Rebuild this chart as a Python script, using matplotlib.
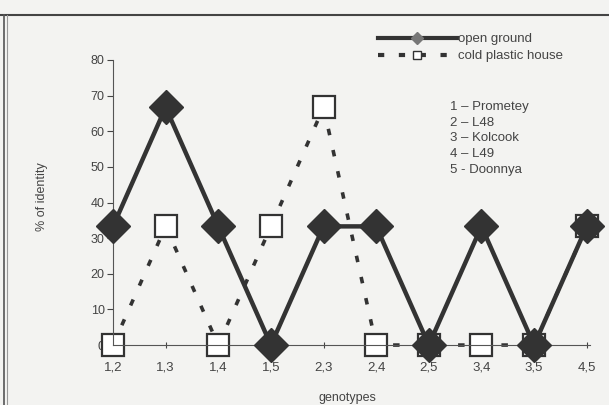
import matplotlib.pyplot as plt
import matplotlib.lines as mlines

plt.rcParams['font.family'] = ['Liberation Sans', 'DejaVu Sans']

# data
genotypes = ['1,2', '1,3', '1,4', '1,5', '2,3', '2,4', '2,5', '3,4', '3,5', '4,5']
open_ground = [33.3, 66.7, 33.3, 0, 33.3, 33.3, 0, 33.3, 0, 33.3]
cold_house = [0, 33.3, 0, 33.3, 66.7, 0, 0, 0, 0, 33.3]
variety_names = ['1 \u2013 Prometey', '2 \u2013 L48', '3 \u2013 Kolcook', '4 \u2013 L49', '5 - Doonnya']
y_ticks = [0, 10, 20, 30, 40, 50, 60, 70, 80]

bg = '#f3f3f1'
ink = '#333333'
txt = '#444444'

fig = plt.figure(figsize=(6.09, 4.05), dpi=100, facecolor=bg)
ax = fig.add_axes([0.1856, 0.148, 0.783, 0.704])
ax.set_facecolor('none')

x = list(range(len(genotypes)))
ax.plot(x, cold_house, color=ink, lw=2.6, ls=(0, (1.8, 4.2)), marker='s', ms=16,
        mfc='white', mec=ink, mew=1.6, zorder=2)
ax.plot(x, open_ground, color=ink, lw=3.2, ls='-', marker='D', ms=17,
        mfc=ink, mec=ink, zorder=3)

ax.set_xlim(0, 9.06)
ax.set_ylim(0, 80)
ax.set_yticks(y_ticks)
ax.set_xticks(x)
ax.set_xticklabels(genotypes)
for s in ['top', 'right']:
    ax.spines[s].set_visible(False)
for s in ['left', 'bottom']:
    ax.spines[s].set_color('#555555')
    ax.spines[s].set_linewidth(0.8)
ax.tick_params(axis='y', direction='out', length=4, labelsize=9, colors=txt, width=0.8, pad=2)
ax.tick_params(axis='x', direction='inout', length=5, labelsize=9.5, colors=txt, width=0.8, pad=9)
for c in ax.get_children():
    c.set_clip_on(False)

fig.text(0.069, 0.515, '% of identity', rotation=90, fontsize=9, color=txt,
         ha='center', va='center')
fig.text(0.57, 0.017, 'genotypes', fontsize=9, color=txt, ha='center', va='center')

# legend
h1 = mlines.Line2D([], [], color=ink, lw=3, marker='D', ms=6, mfc='#777777', mec='#777777')
h2 = mlines.Line2D([], [], color=ink, lw=3, ls=(0, (1.5, 3.5)), marker='s', ms=6,
                   mfc='white', mec=ink)
leg = fig.legend([h1, h2], ['open ground', 'cold plastic house'], loc='upper left',
                 bbox_to_anchor=(0.62, 0.918), frameon=False, fontsize=9.5,
                 handlelength=6.0, handletextpad=0.1, labelspacing=0.35,
                 borderaxespad=0, borderpad=0)
for t in leg.get_texts():
    t.set_color(txt)

fig.text(0.739, 0.75, '\n'.join(variety_names), fontsize=9.5, color=txt,
         va='top', ha='left', linespacing=1.4)

# frame of the original figure
fig.add_artist(mlines.Line2D([0.0, 1.0], [0.962, 0.962], transform=fig.transFigure,
                             color='#444444', lw=1.5))
fig.add_artist(mlines.Line2D([0.007, 0.007], [0.0, 0.962], transform=fig.transFigure,
                             color='#555555', lw=1.2))
fig.add_artist(mlines.Line2D([0.012, 0.012], [0.0, 0.962], transform=fig.transFigure,
                             color='#999999', lw=0.8))

fig.savefig('out.png', dpi=100, facecolor=bg)
